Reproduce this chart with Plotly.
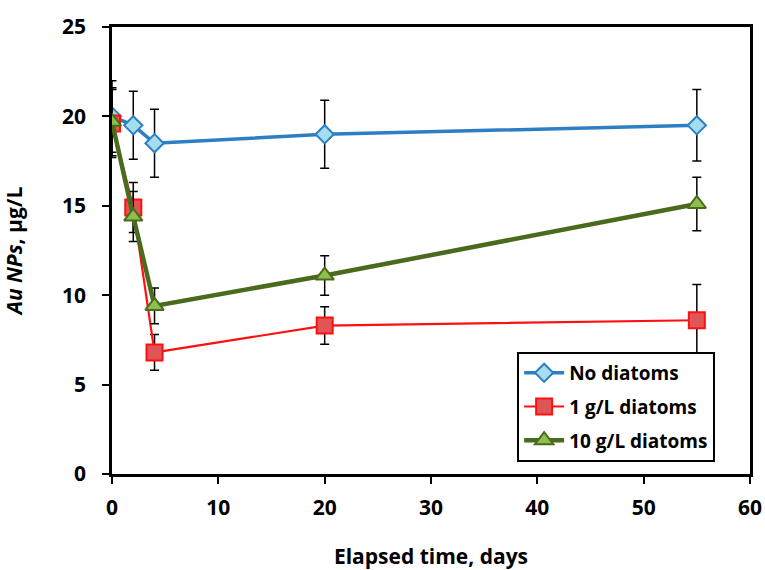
import plotly.graph_objects as go

days = [0, 2, 4, 20, 55]
no_diatoms = [20.0, 19.5, 18.5, 19.0, 19.5]
no_diatoms_err = [2.0, 1.9, 1.9, 1.9, 2.0]
one_g = [19.6, 14.9, 6.8, 8.3, 8.6]
one_g_err = [1.9, 1.4, 1.0, 1.05, 2.0]
ten_g = [19.7, 14.4, 9.4, 11.1, 15.1]
ten_g_err = [1.9, 1.4, 1.0, 1.1, 1.5]

x_ticks = [0, 10, 20, 30, 40, 50, 60]
y_ticks = [0, 5, 10, 15, 20, 25]

FONT = "'Open Sans', 'Noto Sans', sans-serif"

fig = go.Figure()

def add(name, y, err, line_color, lw, fill, symbol, size):
    fig.add_trace(go.Scatter(
        x=days, y=y, name=name, mode="lines+markers", legendgroup=name,
        line=dict(color=line_color, width=lw),
        marker=dict(symbol=symbol, size=size, color=fill,
                    line=dict(color=line_color, width=2)),
        error_y=dict(type="data", array=err, visible=True,
                     color="black", thickness=1.5, width=4.5),
    ))

add("No diatoms", no_diatoms, no_diatoms_err, "#2E7EC4", 3.5, "#A3DDEE", "diamond", 14)
add("1 g/L diatoms", one_g, one_g_err, "#FF1010", 2.2, "#E05555", "square", 16)
add("10 g/L diatoms", ten_g, ten_g_err, "#4A6A1E", 4.5, "#8DBF4E", "triangle-up", 16)

axis_common = dict(
    ticks="outside", ticklen=7, tickwidth=2, tickcolor="black",
    showline=True, linecolor="black", linewidth=2.5, mirror=True,
    showgrid=False, zeroline=False, automargin=False,
    tickfont=dict(family=FONT, size=21, weight="bold", color="black"),
)

fig.update_layout(
    width=765, height=570,
    margin=dict(l=112, r=15, t=27, b=96),
    paper_bgcolor="white", plot_bgcolor="white",
    font=dict(family=FONT, size=21, color="black"),
    showlegend=True,
    legend=dict(
        x=0.635, y=0.273, xanchor="left", yanchor="top",
        bgcolor="white", bordercolor="black", borderwidth=2,
        font=dict(family=FONT, size=19, color="black", weight="bold"),
        tracegroupgap=6, itemwidth=40,
    ),
    xaxis=dict(
        range=[0, 60], tickvals=x_ticks, ticklabelstandoff=6, **axis_common,
        title=dict(text="<b>Elapsed time, days</b>", standoff=32,
                   font=dict(family=FONT, size=21)),
    ),
    yaxis=dict(
        range=[0, 25], tickvals=y_ticks, ticklabelstandoff=12, **axis_common,
        title=dict(text="<b><i>Au NPs</i>, µg/L</b>", standoff=36,
                   font=dict(family=FONT, size=21)),
    ),
)

fig.write_html("out.html", config={"displayModeBar": False},
               post_script="document.body.style.margin='0';")
